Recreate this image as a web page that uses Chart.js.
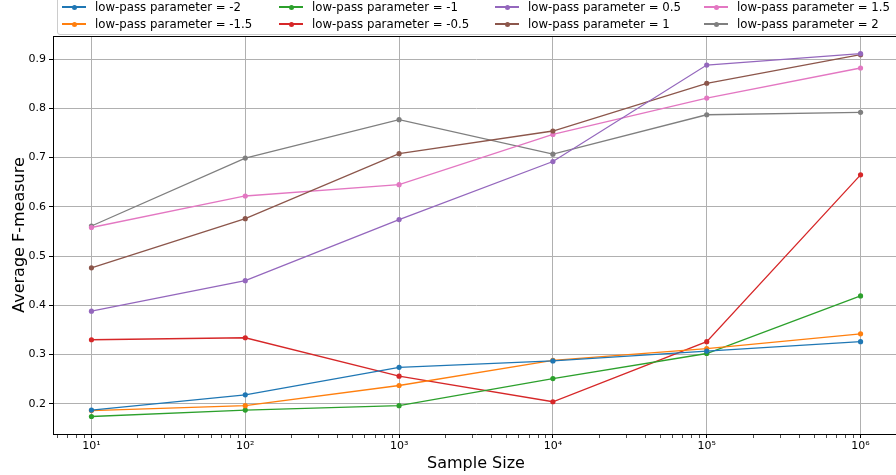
<!DOCTYPE html>
<html lang="en">
<head>
    <meta charset="UTF-8" />
    <title>Average F-measure vs Sample Size</title>
    <script src="https://cdn.jsdelivr.net/npm/chart.js"></script>
    <style>
        html, body { margin: 0; padding: 0; background: #fff; }
        .wrap {
            position: relative;
            width: 896px;
            height: 475px;
            overflow: hidden;
            font-family: "DejaVu Sans", sans-serif;
        }
        #chart { position: absolute; left: 0; top: 0; }
        .legend {
            position: absolute;
            left: 57px;
            top: -4px;
            width: 842px;
            height: 39px;
            box-sizing: border-box;
            border: 1px solid #cccccc;
            border-radius: 3px;
            background: rgba(255, 255, 255, 0.85);
        }
        .item {
            position: absolute;
            height: 16px;
            font-size: 11.75px;
            line-height: 16px;
            color: #000;
            white-space: nowrap;
        }
        .item .handle {
            position: absolute;
            left: 0;
            top: 7px;
            width: 24px;
            height: 1.5px;
        }
        .item .dot {
            position: absolute;
            left: 9.5px;
            top: 5.5px;
            width: 5px;
            height: 5px;
            border-radius: 50%;
        }
        .item .txt { position: absolute; left: 33px; top: 0; }
    </style>
</head>
<body>
    <div class="wrap">
        <canvas id="chart" width="904" height="475"></canvas>
        <div class="legend" id="legend"></div>
    </div>
    <script>
        // sample sizes (x, log scale)
        const sampleSizes = [10, 100, 1000, 10000, 100000, 1000000];
        const paramLabels = ["-2", "-1.5", "-1", "-0.5", "0.5", "1", "1.5", "2"];
        const colors = ["#1f77b4", "#ff7f0e", "#2ca02c", "#d62728", "#9467bd", "#8c564b", "#e377c2", "#7f7f7f"];

        // average F-measure per low-pass parameter
        const fmMinus2   = [0.187, 0.218, 0.274, 0.287, 0.307, 0.326];
        const fmMinus1_5 = [0.186, 0.196, 0.237, 0.288, 0.312, 0.342];
        const fmMinus1   = [0.174, 0.187, 0.196, 0.251, 0.302, 0.419];
        const fmMinus0_5 = [0.330, 0.334, 0.256, 0.204, 0.326, 0.665];
        const fmPlus0_5  = [0.388, 0.450, 0.574, 0.692, 0.888, 0.911];
        const fmPlus1    = [0.476, 0.576, 0.708, 0.754, 0.851, 0.909];
        const fmPlus1_5  = [0.558, 0.622, 0.645, 0.747, 0.821, 0.882];
        const fmPlus2    = [0.561, 0.699, 0.777, 0.707, 0.787, 0.792];
        const allSeries = [fmMinus2, fmMinus1_5, fmMinus1, fmMinus0_5, fmPlus0_5, fmPlus1, fmPlus1_5, fmPlus2];

        const yTicks = [0.2, 0.3, 0.4, 0.5, 0.6, 0.7, 0.8, 0.9];
        const superDigits = ["⁰", "¹", "²", "³", "⁴", "⁵", "⁶", "⁷"];

        const isMajor = (v) => Math.abs(Math.log10(v) - Math.round(Math.log10(v))) < 1e-9;

        const datasets = paramLabels.map((p, i) => ({
            label: "low-pass parameter = " + p,
            data: sampleSizes.map((x, j) => ({ x: x, y: allSeries[i][j] })),
            borderColor: colors[i],
            backgroundColor: colors[i],
            borderWidth: 1.3,
            pointRadius: 2.6,
            pointBorderWidth: 0,
            pointHoverRadius: 2.6,
            tension: 0,
        }));

        // top spine
        const topSpine = {
            id: "topSpine",
            afterDraw(chart) {
                const { ctx, chartArea } = chart;
                ctx.save();
                ctx.strokeStyle = "#000";
                ctx.lineWidth = 1;
                ctx.beginPath();
                ctx.moveTo(chartArea.left, Math.round(chartArea.top) + 0.5);
                ctx.lineTo(chartArea.right, Math.round(chartArea.top) + 0.5);
                ctx.stroke();
                ctx.restore();
            },
        };

        new Chart(document.getElementById("chart"), {
            type: "line",
            data: { datasets: datasets },
            plugins: [topSpine],
            options: {
                responsive: false,
                animation: false,
                layout: { padding: { top: 36, right: 5, left: 0, bottom: 0 } },
                plugins: { legend: { display: false }, tooltip: { enabled: false } },
                scales: {
                    x: {
                        type: "logarithmic",
                        min: Math.pow(10, 0.75),
                        max: Math.pow(10, 6.25),
                        afterBuildTicks: (scale) => {
                            const t = [];
                            for (let e = 0; e <= 6; e++) {
                                for (let k = 1; k <= 9; k++) {
                                    const v = k * Math.pow(10, e);
                                    if (v >= scale.min && v <= scale.max) t.push({ value: v });
                                }
                            }
                            scale.ticks = t;
                        },
                        afterFit: (scale) => { scale.height = 41; },
                        ticks: {
                            autoSkip: false,
                            maxRotation: 0,
                            padding: 2,
                            color: "#000",
                            font: { family: "DejaVu Sans", size: 11 },
                            callback: (v) => isMajor(v) ? "10" + superDigits[Math.round(Math.log10(v))] : "",
                        },
                        grid: {
                            color: (c) => (c.tick && isMajor(c.tick.value)) ? "#b0b0b0" : "rgba(0,0,0,0)",
                            tickColor: "#000",
                            tickWidth: (c) => (c.tick && isMajor(c.tick.value)) ? 1 : 0.7,
                            tickLength: 4,
                            lineWidth: 1,
                        },
                        border: { color: "#000", width: 1 },
                        title: {
                            display: true,
                            text: "Sample Size",
                            color: "#000",
                            font: { family: "DejaVu Sans", size: 16 },
                            padding: { top: 0, bottom: 2 },
                        },
                    },
                    y: {
                        min: 0.1385,
                        max: 0.947,
                        afterBuildTicks: (scale) => { scale.ticks = yTicks.map((v) => ({ value: v })); },
                        afterFit: (scale) => { scale.width = 53; },
                        ticks: {
                            padding: 3,
                            color: "#000",
                            font: { family: "DejaVu Sans", size: 11 },
                            callback: (v) => v.toFixed(1),
                        },
                        grid: { color: "#b0b0b0", tickColor: "#000", tickLength: 4, lineWidth: 1 },
                        border: { color: "#000", width: 1 },
                        title: {
                            display: true,
                            text: "Average F-measure",
                            color: "#000",
                            font: { family: "DejaVu Sans", size: 16 },
                            padding: { top: 10, bottom: 0 },
                        },
                    },
                },
            },
        });

        // legend, filled column by column like the original
        const legend = document.getElementById("legend");
        const colLeft = [4, 221, 437, 646];
        const rowTop = [2, 19];
        datasets.forEach((ds, i) => {
            const col = Math.floor(i / 2), row = i % 2;
            const item = document.createElement("div");
            item.className = "item";
            item.style.left = colLeft[col] + "px";
            item.style.top = rowTop[row] + "px";
            item.innerHTML = '<span class="handle" style="background:' + ds.borderColor + '"></span>' +
                '<span class="dot" style="background:' + ds.borderColor + '"></span>' +
                '<span class="txt">' + ds.label + '</span>';
            legend.appendChild(item);
        });
    </script>
</body>
</html>
